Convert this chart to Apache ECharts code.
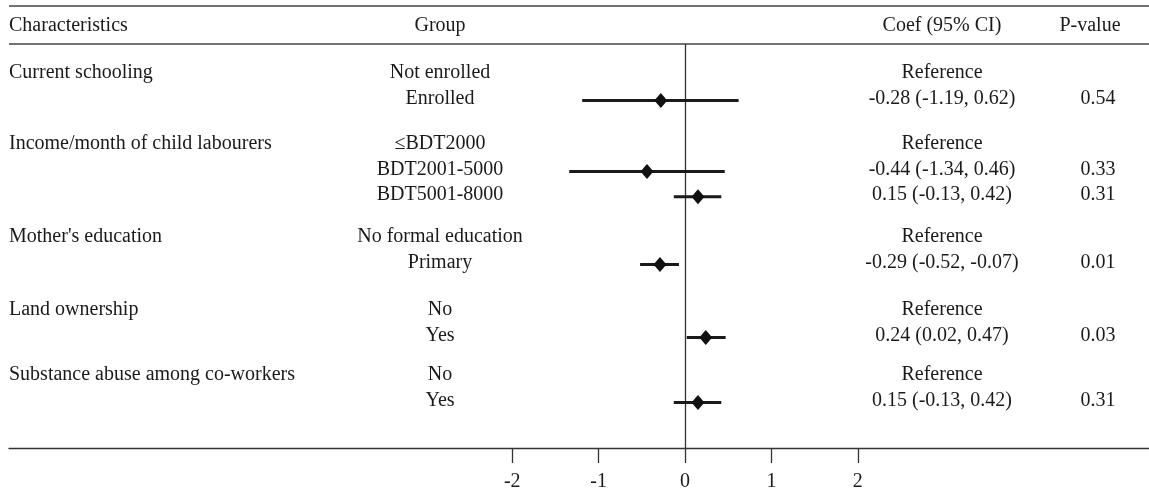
<!DOCTYPE html>
<html>
<head>
<meta charset="utf-8">
<script src="https://cdn.jsdelivr.net/npm/echarts@6/dist/echarts.min.js"></script>
<style>
html,body{margin:0;padding:0;background:#fff;}
#chart{width:1149px;height:491px;}
</style>
</head>
<body>
<div id="chart"></div>
<script>
// ---------- data ----------
const characteristics = ['Current schooling', 'Income/month of child labourers', "Mother's education", 'Land ownership', 'Substance abuse among co-workers'];
const groupLabels = [
  ['Not enrolled', 'Enrolled'],
  ['\u2264BDT2000', 'BDT2001-5000', 'BDT5001-8000'],
  ['No formal education', 'Primary'],
  ['No', 'Yes'],
  ['No', 'Yes']
];
// one entry per row (reference rows = null)
const coef   = [null, -0.28, null, -0.44, 0.15, null, -0.29, null, 0.24, null, 0.15];
const ciLow  = [null, -1.19, null, -1.34, -0.13, null, -0.52, null, 0.02, null, -0.13];
const ciHigh = [null, 0.62, null, 0.46, 0.42, null, -0.07, null, 0.47, null, 0.42];
const pValues = ['', '0.54', '', '0.33', '0.31', '', '0.01', '', '0.03', '', '0.31'];
const xTicks = [-2, -1, 0, 1, 2];
const headers = ['Characteristics', 'Group', 'Coef (95% CI)', 'P-value'];

// ---------- layout ----------
const FONT = 'Liberation Serif';
const FS = 20;
const TXT = '#1a1a1a';
const FIRST_ROW = 75, ROW_STEP = 25.4;
const GROUP_GAPS = [45.6, 42.2, 47.6, 39.6];
const COL_CHAR = 9, COL_GROUP = 440, COL_COEF = 942, COL_P = 1098, COL_P_HEAD = 1090;

// build row slots
const rows = [];
let y = FIRST_ROW;
groupLabels.forEach((g, gi) => {
  if (gi > 0) y += GROUP_GAPS[gi - 1];
  g.forEach((lab, li) => {
    if (li > 0) y += ROW_STEP;
    rows.push({ y: y, group: gi, first: li === 0, label: lab });
  });
});

function fmt(v) { return v.toFixed(2); }

const textData = rows.map((r, i) => [r.y, i]);
const ciData = [];
const pointData = [];
rows.forEach((r, i) => {
  if (coef[i] !== null) {
    ciData.push([ciLow[i], ciHigh[i], r.y]);
    pointData.push([coef[i], r.y]);
  }
});

const chart = echarts.init(document.getElementById('chart'));
const font = { fontFamily: FONT, fontSize: FS, fill: TXT };

chart.setOption({
  animation: false,
  backgroundColor: '#fff',
  grid: { left: 9, right: 0, top: 44, bottom: 43, containLabel: false, outerBoundsMode: 'none' },
  xAxis: {
    type: 'value',
    min: -7.824, max: 5.370,
    splitLine: { show: false },
    axisLine: { show: true, onZero: false, lineStyle: { color: '#333', width: 1.3 } },
    axisTick: { show: true, length: 15, customValues: xTicks, lineStyle: { color: '#333', width: 1.3 } },
    axisLabel: { show: true, customValues: xTicks, margin: 24, color: TXT, fontFamily: FONT, fontSize: FS }
  },
  yAxis: {
    type: 'value', min: 44, max: 448, inverse: true, show: false
  },
  graphic: [
    { type: 'line', shape: { x1: 9, y1: 6, x2: 1149, y2: 6 }, style: { stroke: '#444', lineWidth: 1.5 } },
    { type: 'line', shape: { x1: 9, y1: 44, x2: 1149, y2: 44 }, style: { stroke: '#444', lineWidth: 1.5 } },
    { type: 'text', x: COL_CHAR, y: 25.5, style: Object.assign({ text: headers[0], align: 'left', verticalAlign: 'middle' }, font) },
    { type: 'text', x: COL_GROUP, y: 25.5, style: Object.assign({ text: headers[1], align: 'center', verticalAlign: 'middle' }, font) },
    { type: 'text', x: COL_COEF, y: 25.5, style: Object.assign({ text: headers[2], align: 'center', verticalAlign: 'middle' }, font) },
    { type: 'text', x: COL_P_HEAD, y: 25.5, style: Object.assign({ text: headers[3], align: 'center', verticalAlign: 'middle' }, font) }
  ],
  series: [
    {
      type: 'custom',
      clip: false,
      silent: true,
      data: textData,
      encode: { y: 0 },
      renderItem: function (params, api) {
        const i = api.value(1);
        const r = rows[i];
        const py = api.coord([0, api.value(0)])[1] - 2;
        const children = [];
        if (r.first) {
          children.push({ type: 'text', x: COL_CHAR, y: py, style: Object.assign({ text: characteristics[r.group], align: 'left', verticalAlign: 'middle' }, font) });
        }
        children.push({ type: 'text', x: COL_GROUP, y: py, style: Object.assign({ text: r.label, align: 'center', verticalAlign: 'middle' }, font) });
        const ct = coef[i] === null ? 'Reference' : fmt(coef[i]) + ' (' + fmt(ciLow[i]) + ', ' + fmt(ciHigh[i]) + ')';
        children.push({ type: 'text', x: COL_COEF, y: py, style: Object.assign({ text: ct, align: 'center', verticalAlign: 'middle' }, font) });
        if (pValues[i]) {
          children.push({ type: 'text', x: COL_P, y: py, style: Object.assign({ text: pValues[i], align: 'center', verticalAlign: 'middle' }, font) });
        }
        return { type: 'group', children: children };
      },
      z: 3
    },
    {
      type: 'custom',
      clip: false,
      silent: true,
      data: ciData,
      encode: { x: [0, 1], y: 2 },
      renderItem: function (params, api) {
        const p1 = api.coord([api.value(0), api.value(2)]);
        const p2 = api.coord([api.value(1), api.value(2)]);
        return { type: 'line', shape: { x1: p1[0], y1: p1[1], x2: p2[0], y2: p2[1] }, style: { stroke: '#1a1a1a', lineWidth: 3 } };
      },
      z: 4
    },
    {
      type: 'scatter',
      silent: true,
      data: pointData,
      symbol: 'diamond',
      symbolSize: [13, 15],
      itemStyle: { color: '#111', opacity: 1 },
      emphasis: { disabled: true },
      z: 5,
      markLine: {
        silent: true,
        symbol: 'none',
        label: { show: false },
        lineStyle: { color: '#333', width: 1.3, type: 'solid' },
        data: [{ xAxis: 0 }],
        z: 2
      }
    }
  ]
});
</script>
</body>
</html>
